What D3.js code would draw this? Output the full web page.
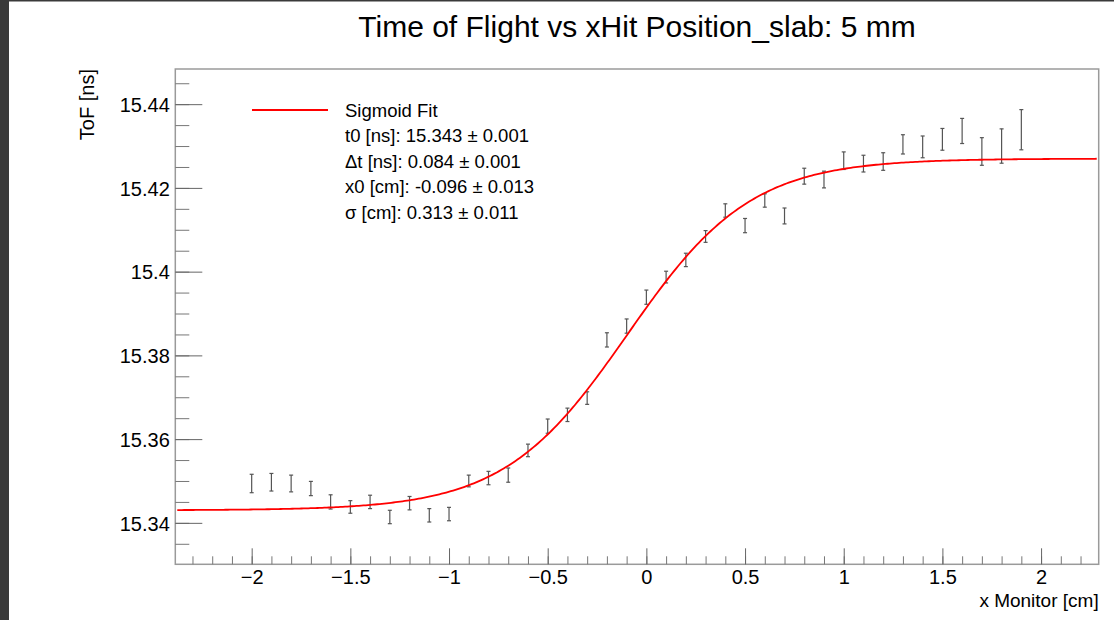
<!DOCTYPE html>
<html>
<head>
<meta charset="utf-8">
<script src="https://cdn.jsdelivr.net/npm/d3@7/dist/d3.min.js"></script>
<style>
  html, body { margin: 0; padding: 0; background: #fff; }
  svg { display: block; font-family: "Liberation Sans", Arial, Helvetica, sans-serif; }
</style>
</head>
<body>
<svg id="chart" width="1114" height="620"></svg>
<script>
// ---- data ----
const xMonitor = [-2.0,-1.9,-1.8,-1.7,-1.6,-1.5,-1.4,-1.3,-1.2,-1.1,-1.0,-0.9,-0.8,-0.7,-0.6,-0.5,-0.4,-0.3,-0.2,-0.1,
                  0.0,0.1,0.2,0.3,0.4,0.5,0.6,0.7,0.8,0.9,1.0,1.1,1.2,1.3,1.4,1.5,1.6,1.7,1.8,1.9];
const tofValues = [15.3494,15.3497,15.3494,15.3482,15.3450,15.3438,15.3450,15.3414,15.3447,15.3418,15.3421,15.3500,15.3507,15.3514,15.3573,15.3631,15.3658,15.3698,15.3837,15.3870,
                   15.3939,15.3987,15.4028,15.4084,15.4146,15.4110,15.4170,15.4133,15.4228,15.4220,15.4265,15.4258,15.4263,15.4304,15.4298,15.4316,15.4336,15.4287,15.4300,15.4339];
const tofErrors = [0.0022,0.0021,0.0020,0.0017,0.0017,0.0015,0.0016,0.0016,0.0016,0.0016,0.0016,0.0014,0.0016,0.0017,0.0015,0.0017,0.0016,0.0015,0.0017,0.0017,
                   0.0017,0.0014,0.0016,0.0014,0.0016,0.0017,0.0016,0.0019,0.0019,0.0020,0.0021,0.0020,0.0021,0.0023,0.0026,0.0026,0.0030,0.0033,0.0041,0.0048];
// sigmoid fit parameters (from legend)
const fitT0 = 15.343, fitDt = 0.084, fitX0 = -0.096, fitSigma = 0.313;
const legendLines = [
  "t0 [ns]: 15.343 \u00B1 0.001",
  "\u0394t [ns]: 0.084 \u00B1 0.001",
  "x0 [cm]: -0.096 \u00B1 0.013",
  "\u03C3 [cm]: 0.313 \u00B1 0.011"
];
const xMajorTicks = [-2,-1.5,-1,-0.5,0,0.5,1,1.5,2];
const yMajorTicks = [15.34,15.36,15.38,15.40,15.42,15.44];
const xDomain = [-2.387, 2.292];
const yDomain = [15.3301, 15.4484];
const titleText = "Time of Flight vs xHit Position_slab: 5 mm";
const xTitle = "x Monitor [cm]";
const yTitle = "ToF [ns]";

// ---- layout ----
const svg = d3.select("#chart");
const FONT = '"Liberation Sans", Arial, Helvetica, sans-serif';
const L = 175.3, R = 1098.7, T = 69, B = 564.3;
const x = d3.scaleLinear().domain(xDomain).range([L, R]);
const y = d3.scaleLinear().domain(yDomain).range([B, T]);

// dark window edges
svg.append("rect").attr("x", 0).attr("y", 0).attr("width", 9).attr("height", 620).attr("fill", "#3a3a3a");
svg.append("rect").attr("x", 0).attr("y", 0).attr("width", 1114).attr("height", 1.5).attr("fill", "#3a3a3a");

// frame
svg.append("rect").attr("x", L).attr("y", T).attr("width", R - L).attr("height", B - T)
  .attr("fill", "none").attr("stroke", "#9a9a9a").attr("stroke-width", 1.5);

// x axis ticks
const xMinor = d3.range(-23, 23).map(d => d / 10).filter(d => x(d) > L + 1 && x(d) < R - 1);
const xAxisMinor = d3.axisBottom(x).tickValues(xMinor).tickSize(8).tickFormat("");
const xAxisMajor = d3.axisBottom(x).tickValues(xMajorTicks).tickSize(16).tickPadding(0)
  .tickFormat(d3.format("~g"));
const gxm = svg.append("g").attr("transform", `translate(0,${B})`).call(xAxisMinor);
gxm.selectAll(".tick line").attr("transform", "scale(1,-1)").attr("stroke", "#777");
gxm.select(".domain").remove();
const gx = svg.append("g").attr("transform", `translate(0,${B})`).call(xAxisMajor);
gx.select(".domain").remove();
gx.selectAll(".tick line").attr("transform", "scale(1,-1)").attr("stroke", "#666");
gx.selectAll(".tick text").attr("y", 20).attr("dy", 0).attr("font-size", 20).attr("fill", "#000")
  .attr("font-family", FONT);

// y axis ticks
const yMinor = d3.range(0, 30).map(d => 15.33 + d * 0.005).filter(d => y(d) < B - 1 && y(d) > T + 1);
const yAxisMinor = d3.axisLeft(y).tickValues(yMinor).tickSize(14).tickFormat("");
const yAxisMajor = d3.axisLeft(y).tickValues(yMajorTicks).tickSize(27).tickPadding(0)
  .tickFormat(d3.format(".4~f"));
const gym = svg.append("g").attr("transform", `translate(${L},0)`).call(yAxisMinor);
gym.selectAll(".tick line").attr("transform", "scale(-1,1)").attr("stroke", "#777");
gym.select(".domain").remove();
const gy = svg.append("g").attr("transform", `translate(${L},0)`).call(yAxisMajor);
gy.select(".domain").remove();
gy.selectAll(".tick line").attr("transform", "scale(-1,1)").attr("stroke", "#666");
gy.selectAll(".tick text").attr("x", -5.5).attr("dy", "0.36em").attr("font-size", 20).attr("fill", "#000")
  .attr("font-family", FONT);

// error bars
const data = xMonitor.map((xv, i) => ({ x: xv, y: tofValues[i], e: tofErrors[i] }));
const eb = svg.append("g").attr("stroke", "#555").attr("stroke-width", 1.2).attr("fill", "none");
eb.selectAll("line.bar").data(data).join("line").attr("class", "bar")
  .attr("x1", d => x(d.x)).attr("x2", d => x(d.x))
  .attr("y1", d => y(d.y - d.e)).attr("y2", d => y(d.y + d.e));
eb.selectAll("line.capt").data(data).join("line").attr("class", "capt")
  .attr("x1", d => x(d.x) - 2).attr("x2", d => x(d.x) + 2)
  .attr("y1", d => y(d.y + d.e)).attr("y2", d => y(d.y + d.e));
eb.selectAll("line.capb").data(data).join("line").attr("class", "capb")
  .attr("x1", d => x(d.x) - 2).attr("x2", d => x(d.x) + 2)
  .attr("y1", d => y(d.y - d.e)).attr("y2", d => y(d.y - d.e));

// fit curve from the legend parameters
const sigmoid = xv => fitT0 + fitDt / (1 + Math.exp(-(xv - fitX0) / fitSigma));
const fitXs = d3.range(0, 401).map(i => xDomain[0] + 0.01 + i * (xDomain[1] - xDomain[0] - 0.02) / 400);
svg.append("path").datum(fitXs)
  .attr("fill", "none").attr("stroke", "#ff0000").attr("stroke-width", 1.8)
  .attr("d", d3.line().x(d => x(d)).y(d => y(sigmoid(d))));

// legend
svg.append("line").attr("x1", 252).attr("x2", 328).attr("y1", 110).attr("y2", 110)
  .attr("stroke", "#ff0000").attr("stroke-width", 1.8);
svg.append("text").attr("x", 345).attr("y", 117).attr("font-size", 18.5).text("Sigmoid Fit");
svg.selectAll("text.leg").data(legendLines).join("text").attr("class", "leg")
  .attr("x", 345).attr("y", (d, i) => 142 + i * 25.6).attr("font-size", 18.5).text(d => d);

// titles
svg.append("text").attr("x", 637).attr("y", 37).attr("text-anchor", "middle")
  .attr("font-size", 30).text(titleText);
svg.append("text").attr("x", R).attr("y", 606.5).attr("text-anchor", "end")
  .attr("font-size", 19).text(xTitle);
svg.append("text").attr("transform", `translate(94,${T}) rotate(-90)`).attr("text-anchor", "end")
  .attr("font-size", 20).text(yTitle);
</script>
</body>
</html>
